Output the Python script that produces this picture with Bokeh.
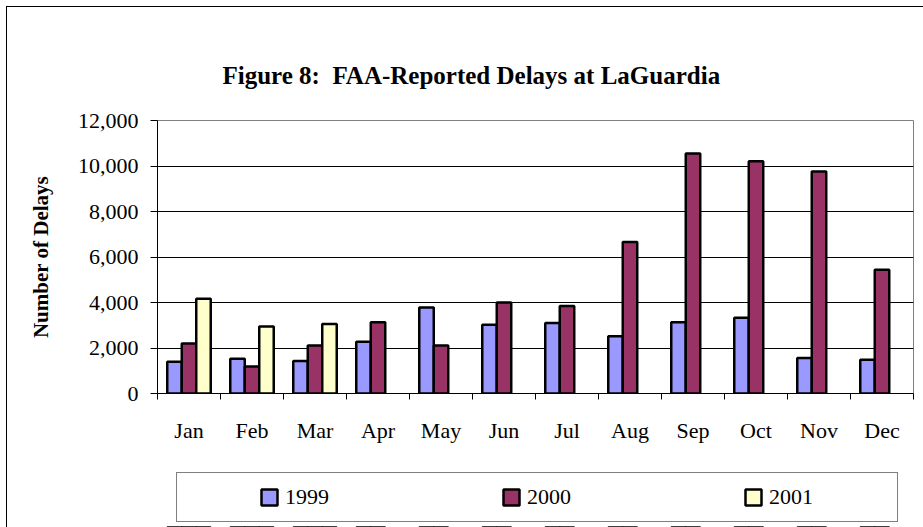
import numpy as np
from bokeh.plotting import figure
from bokeh.layouts import column
from bokeh.models import (Legend, LegendItem, FixedTicker, NumeralTickFormatter,
                          Range1d, ColumnDataSource)
from bokeh.embed import file_html
from bokeh.resources import INLINE

# ---- data -------------------------------------------------------------
months = ["Jan", "Feb", "Mar", "Apr", "May", "Jun",
          "Jul", "Aug", "Sep", "Oct", "Nov", "Dec"]
delays_1999 = [1400, 1530, 1430, 2280, 3780, 3020, 3100, 2520, 3130, 3330, 1560, 1480]
delays_2000 = [2200, 1190, 2110, 3130, 2110, 4000, 3850, 6660, 10550, 10210, 9760, 5440]
delays_2001 = [4170, 2940, 3050]          # Jan - Mar only
series_names = ["1999", "2000", "2001"]
y_ticks = [0, 2000, 4000, 6000, 8000, 10000, 12000]

SERIF = "Liberation Serif"
COLORS = ["#9999FF", "#993366", "#FFFFCC"]

idx = np.arange(len(months))
bw = 0.23
sources = [
    ColumnDataSource(dict(x=idx + 0.5 - bw, top=delays_1999)),
    ColumnDataSource(dict(x=idx + 0.5, top=delays_2000)),
    ColumnDataSource(dict(x=np.arange(len(delays_2001)) + 0.5 + bw, top=delays_2001)),
]

# ---- main chart ---------------------------------------------------------
p = figure(width=923, height=445, output_backend="svg", toolbar_location=None,
           x_range=Range1d(0, len(months)), y_range=Range1d(0, 12000),
           min_border_left=157, min_border_right=10, min_border_top=120,
           min_border_bottom=50)
p.border_fill_color = None
p.styles = {"box-shadow": "inset 6px 6px 0 0 #ffffff, inset 7px 7px 0 0 #000000",
            "background-color": "#ffffff"}

p.title.text = "Figure 8:\u00a0 FAA-Reported Delays at LaGuardia"
p.title.text_font = SERIF
p.title.text_font_size = "25px"
p.title.text_font_style = "bold"
p.title.text_color = "black"
p.title.align = "left"
p.title.offset = 65
p.title.standoff = 63

for src, col in zip(sources, COLORS):
    p.vbar(x="x", top="top", width=bw, source=src, fill_color=col,
           line_color="black", line_width=2.5)

p.yaxis.ticker = FixedTicker(ticks=y_ticks, minor_ticks=[])
p.yaxis.formatter = NumeralTickFormatter(format="0,0")
p.yaxis.axis_label = "Number of Delays"
p.yaxis.axis_label_text_font = SERIF
p.yaxis.axis_label_text_font_size = "21px"
p.yaxis.axis_label_text_font_style = "bold"
p.yaxis.axis_label_text_color = "black"
p.yaxis.axis_label_standoff = 22
p.yaxis.major_label_text_font = SERIF
p.yaxis.major_label_text_font_size = "22px"
p.yaxis.major_label_text_color = "black"
p.yaxis.major_tick_out = 7
p.yaxis.major_tick_in = 0
p.yaxis.major_tick_line_color = "black"
p.yaxis.axis_line_color = "black"
p.yaxis.major_label_standoff = 12

p.xaxis.ticker = FixedTicker(ticks=list(idx + 0.5), minor_ticks=list(range(len(months) + 1)))
p.xaxis.major_label_overrides = {float(i + 0.5): m for i, m in enumerate(months)}
p.xaxis.major_label_text_font = SERIF
p.xaxis.major_label_text_font_size = "22px"
p.xaxis.major_label_text_color = "black"
p.xaxis.major_tick_out = 0
p.xaxis.major_tick_in = 0
p.xaxis.minor_tick_out = 6
p.xaxis.minor_tick_in = 0
p.xaxis.minor_tick_line_color = "black"
p.xaxis.axis_line_color = "black"
p.xaxis.major_label_standoff = 18

p.xgrid.grid_line_color = None
p.ygrid.ticker = FixedTicker(ticks=y_ticks)
p.ygrid.grid_line_color = "black"
p.ygrid.grid_line_width = 1
p.outline_line_color = "#808080"
p.background_fill_color = "white"

# ---- legend strip (its own plot, frame aligned with the chart's) --------
lg = figure(width=923, height=82, output_backend="svg", toolbar_location=None,
            x_axis_type=None, y_axis_type=None,
            x_range=Range1d(0, len(months)), y_range=Range1d(20000, 30000),
            min_border_left=0, min_border_right=0, min_border_top=0, min_border_bottom=0)
lg.border_fill_color = None
lg.background_fill_color = None
lg.outline_line_color = None
lg.xgrid.visible = False
lg.ygrid.visible = False
lg.styles = {"box-shadow": "inset 6px 0 0 0 #ffffff, inset 7px 0 0 0 #000000",
             "background-color": "#ffffff"}

items = []
for name, src, col in zip(series_names, sources, COLORS):
    # same series, far outside this strip's visible range: only the legend swatch shows
    r = lg.vbar(x="x", top="top", width=bw, source=src, fill_color=col,
                line_color="black", line_width=2.5)
    items.append(LegendItem(label=name, renderers=[r]))

legend = Legend(items=items, orientation="horizontal", location=(19, 5),
                title=" ", title_location="left", title_standoff=45,
                title_text_font=SERIF, title_text_font_size="22px",
                padding=11, spacing=99, label_width=117,
                glyph_width=20, glyph_height=20, label_standoff=6,
                label_text_font=SERIF, label_text_font_size="22px",
                label_text_color="black",
                border_line_color="black", border_line_width=1,
                background_fill_color="white", background_fill_alpha=1.0,
                margin=0)
lg.add_layout(legend, "center")

layout = column(p, lg, spacing=0)
open("out.html", "w").write(file_html(layout, INLINE))
